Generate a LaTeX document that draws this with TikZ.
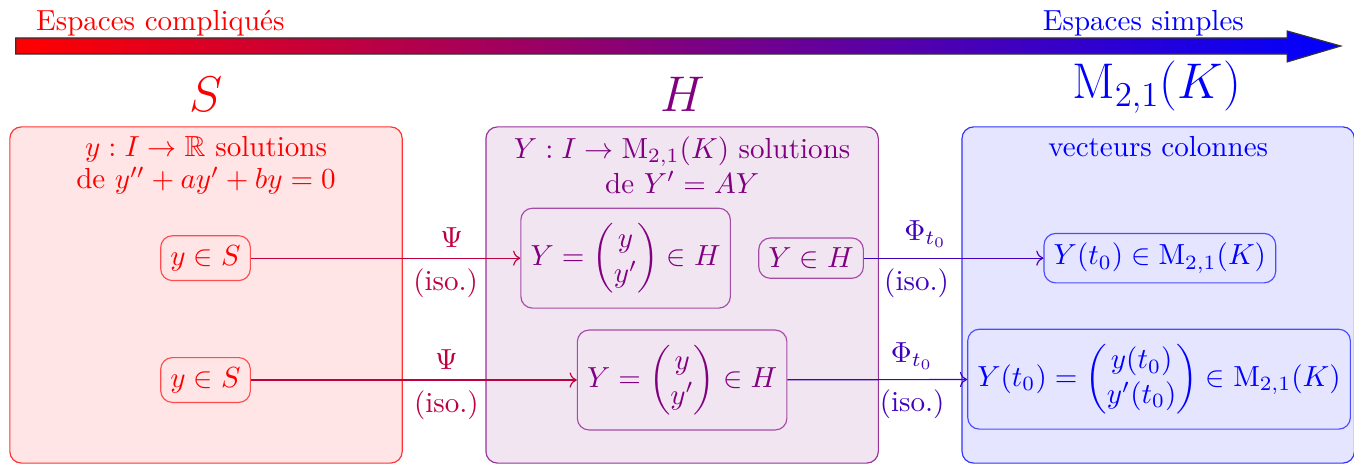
\documentclass[tikz,border=0pt]{standalone}
\usepackage{amsmath,amssymb}
\usetikzlibrary{arrows.meta,positioning,calc}

\begin{document}
\begin{tikzpicture}[zone/.style={draw=#1!80,fill=#1!10,rounded corners,minimum width=4.75cm,minimum height=4.07cm},zone/.default=red,elt/.style={draw=#1!70,text=#1,rounded corners},tall/.style={inner ysep=5.2pt},arr/.style={->,#1},lab/.style={text=#1}]
\useasboundingbox (0,0) rectangle (16.39,-5.617);
\shade[left color=red,right color=blue,draw=black!80] (0.19,-0.46) -- (15.58,-0.46) -- (15.58,-0.375) -- (16.23,-0.557) -- (15.58,-0.75) -- (15.58,-0.654) -- (0.19,-0.654) -- cycle;
\node[lab=red,anchor=base](gc) at (1.94,-0.375){Espaces compliqués};
\node[lab=blue,anchor=base](gs) at (13.84,-0.375){Espaces simples};
\node[lab=red,font=\LARGE](tS) at (2.49,-1.14){$S$};
\node[lab=violet,font=\LARGE](tH) at (8.27,-1.14){$H$};
\node[lab=blue,font=\LARGE](tM) at (14.0,-1.055){$\mathrm{M}_{2,1}(K)$};
\node[zone=red](S) at (2.494,-3.571){};
\node[zone=violet](H) at (8.257,-3.571){};
\node[zone=blue](M) at (14.02,-3.571){};
\node[lab=red,align=center,anchor=north](dS) at (S.north){$y:I\to\mathbb{R}$ solutions\\[-1pt]de $y''+ay'+by=0$};
\node[lab=violet,align=center,anchor=north](dH) at (H.north){$Y:I\to\mathrm{M}_{2,1}(K)$ solutions\\de $Y'=AY$};
\node[lab=blue,align=center,anchor=north](dM) at (M.north){vecteurs colonnes};
\node[elt=red](sA) at (2.488,-3.125){$y\in S$};
\node[elt=violet,tall](hA) at (7.573,-3.125){$Y=\begin{pmatrix}y\\y'\end{pmatrix}\in H$};
\node[elt=violet](hB) at (9.818,-3.125){$Y\in H$};
\node[elt=blue](mA) at (14.04,-3.125){$Y(t_0)\in\mathrm{M}_{2,1}(K)$};
\node[elt=red](sB) at (2.488,-4.6){$y\in S$};
\node[elt=violet,tall](hC) at (8.257,-4.6){$Y=\begin{pmatrix}y\\y'\end{pmatrix}\in H$};
\node[elt=blue,tall](mB) at (14.03,-4.59){$Y(t_0)=\begin{pmatrix}y(t_0)\\y'(t_0)\end{pmatrix}\in\mathrm{M}_{2,1}(K)$};
\draw[arr=red!50!violet](sA)--node[above,pos=0.745]{$\Psi$}node[below,pos=0.723]{(iso.)}(hA);
\draw[arr=red!50!violet](sB)--node[above,pos=0.6]{$\Psi$}node[below,pos=0.6]{(iso.)}(hC);
\draw[arr=violet!50!blue](hB)--node[above,pos=0.343]{$\Phi_{t_0}$}node[below,pos=0.293]{(iso.)}(mA);
\draw[arr=violet!50!blue](hC)--node[above,pos=0.694]{$\Phi_{t_0}$}node[below,pos=0.694]{(iso.)}(mB);
\end{tikzpicture}
\end{document}
